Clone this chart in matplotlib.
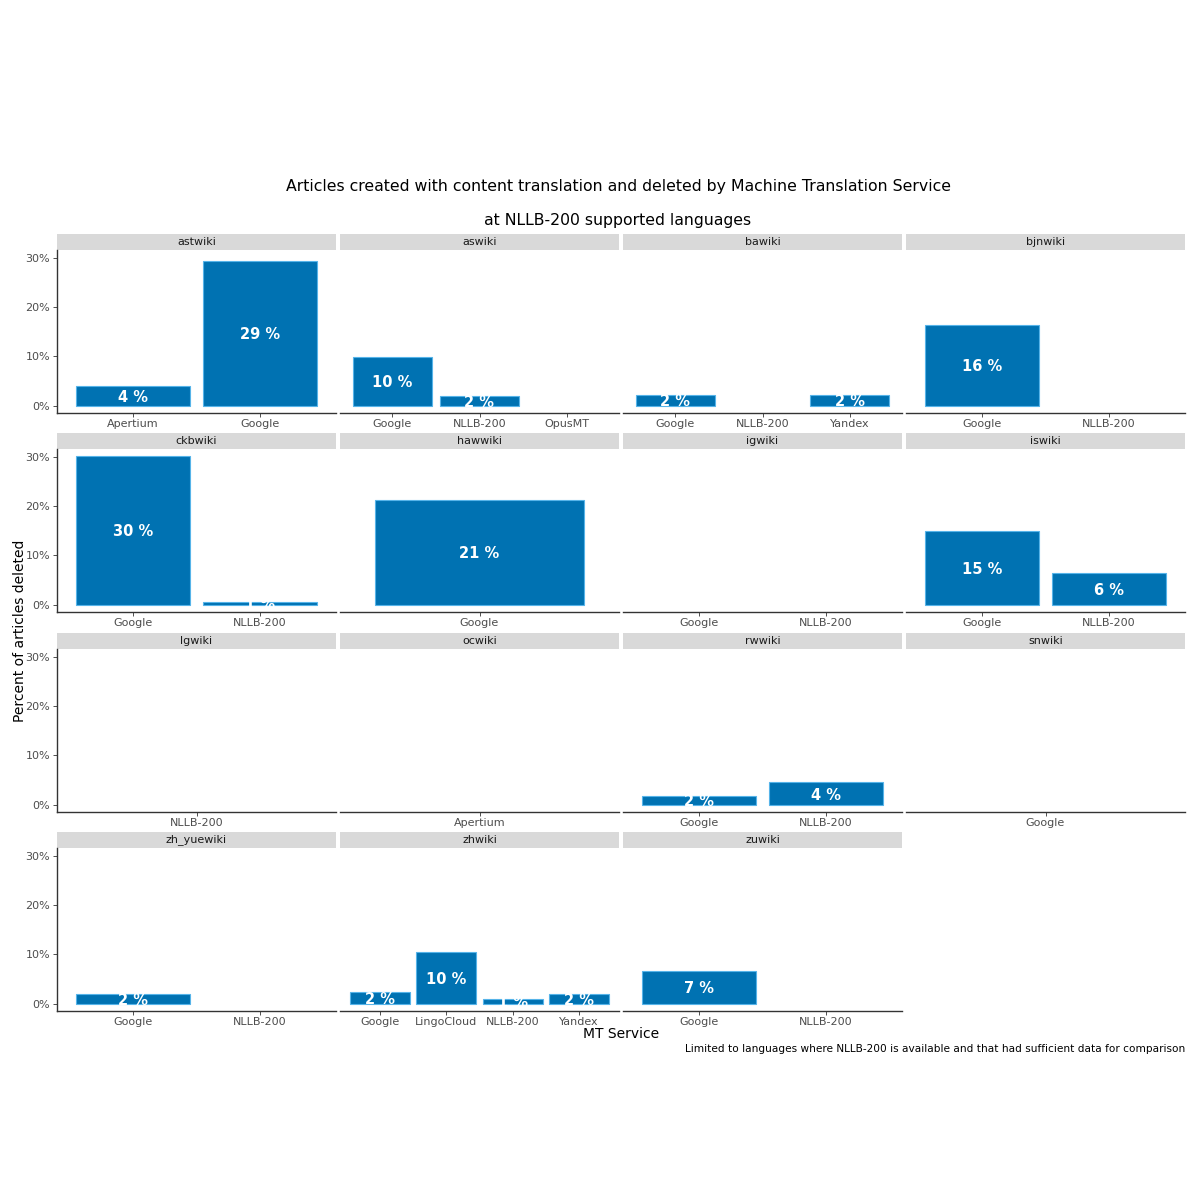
import numpy as np
import matplotlib.pyplot as plt

# data (percent of articles deleted)
wikis = ['astwiki', 'aswiki', 'bawiki', 'bjnwiki',
         'ckbwiki', 'hawwiki', 'igwiki', 'iswiki',
         'lgwiki', 'ocwiki', 'rwwiki', 'snwiki',
         'zh_yuewiki', 'zhwiki', 'zuwiki']
services = [['Apertium', 'Google'],
            ['Google', 'NLLB-200', 'OpusMT'],
            ['Google', 'NLLB-200', 'Yandex'],
            ['Google', 'NLLB-200'],
            ['Google', 'NLLB-200'],
            ['Google'],
            ['Google', 'NLLB-200'],
            ['Google', 'NLLB-200'],
            ['NLLB-200'],
            ['Apertium'],
            ['Google', 'NLLB-200'],
            ['Google'],
            ['Google', 'NLLB-200'],
            ['Google', 'LingoCloud', 'NLLB-200', 'Yandex'],
            ['Google', 'NLLB-200']]
pct = [[4.0, 29.3],
       [9.8, 2.0, 0.0],
       [2.2, 0.0, 2.1],
       [16.4, 0.0],
       [30.1, 0.6],
       [21.2],
       [0.0, 0.0],
       [15.0, 6.4],
       [0.0],
       [0.0],
       [1.8, 4.5],
       [0.0],
       [1.9, 0.0],
       [2.4, 10.4, 1.0, 1.9],
       [6.6, 0.0]]

W = H = 1200
col_left = [57, 340, 623, 906]
col_w = 279
strip_top = [234, 433, 633, 832]
strip_h = 16
panel_h = 163
ylim = (-1.5, 31.6)

bar_col = '#0072B2'
edge_col = '#56B4E9'
grey_txt = '#4D4D4D'

fig = plt.figure(figsize=(12, 12), dpi=100)

def fig_rect(x, y, w, h):
    return [x / W, 1 - (y + h) / H, w / W, h / H]

for i, wiki in enumerate(wikis):
    r, c = divmod(i, 4)
    x0 = col_left[c]
    st = strip_top[r]

    # strip
    sax = fig.add_axes(fig_rect(x0, st, col_w, strip_h))
    sax.set_facecolor('#D9D9D9')
    sax.set_xticks([])
    sax.set_yticks([])
    for s in sax.spines.values():
        s.set_visible(False)
    sax.text(0.5, 0.5, wiki, ha='center', va='center', fontsize=8, color='#1A1A1A',
             transform=sax.transAxes)

    ax = fig.add_axes(fig_rect(x0, st + strip_h, col_w, panel_h))
    n = len(services[i])
    xs = np.arange(1, n + 1)
    vals = pct[i]
    lws = [0.8 if v > 0 else 0 for v in vals]
    ax.bar(xs, vals, width=0.9, color=bar_col, edgecolor=edge_col, linewidth=lws)
    for xv, v in zip(xs, vals):
        if v > 0:
            ax.text(xv, v / 2, '%d %%' % round(v), ha='center', va='center_baseline',
                    color='white', fontsize=10.5, fontweight='bold', clip_on=True)
    ax.set_xlim(0.4, n + 0.6)
    ax.set_ylim(*ylim)
    ax.set_xticks(xs)
    ax.set_xticklabels(services[i], fontsize=8, color=grey_txt)
    ax.tick_params(axis='x', length=3, width=0.6, color='#333333', pad=1.5)
    for side in ['top', 'right']:
        ax.spines[side].set_visible(False)
    ax.spines['bottom'].set_color('#333333')
    ax.spines['bottom'].set_linewidth(1.0)
    if c == 0:
        ax.set_yticks([0, 10, 20, 30])
        ax.set_yticklabels(['0%', '10%', '20%', '30%'], fontsize=8, color=grey_txt)
        ax.tick_params(axis='y', length=3, width=0.6, color='#333333', pad=2)
        ax.spines['left'].set_color('#333333')
        ax.spines['left'].set_linewidth(1.0)
    else:
        ax.set_yticks([])
        ax.spines['left'].set_visible(False)

fig.text(618 / W, 1 - 186 / H,
         'Articles created with content translation and deleted by Machine Translation Service',
         ha='center', va='center', fontsize=11.3, color='black')
fig.text(618 / W, 1 - 220 / H, 'at NLLB-200 supported languages',
         ha='center', va='center', fontsize=11.3, color='black')
fig.text(20 / W, 1 - 631 / H, 'Percent of articles deleted', rotation=90,
         ha='center', va='center', fontsize=10, color='black')
fig.text(621 / W, 1 - 1034 / H, 'MT Service', ha='center', va='center',
         fontsize=10, color='black')
fig.text(1185 / W, 1 - 1049 / H,
         'Limited to languages where NLLB-200 is available and that had sufficient data for comparison',
         ha='right', va='center', fontsize=7.6, color='black')

fig.savefig('out.png', dpi=100, facecolor='white')
